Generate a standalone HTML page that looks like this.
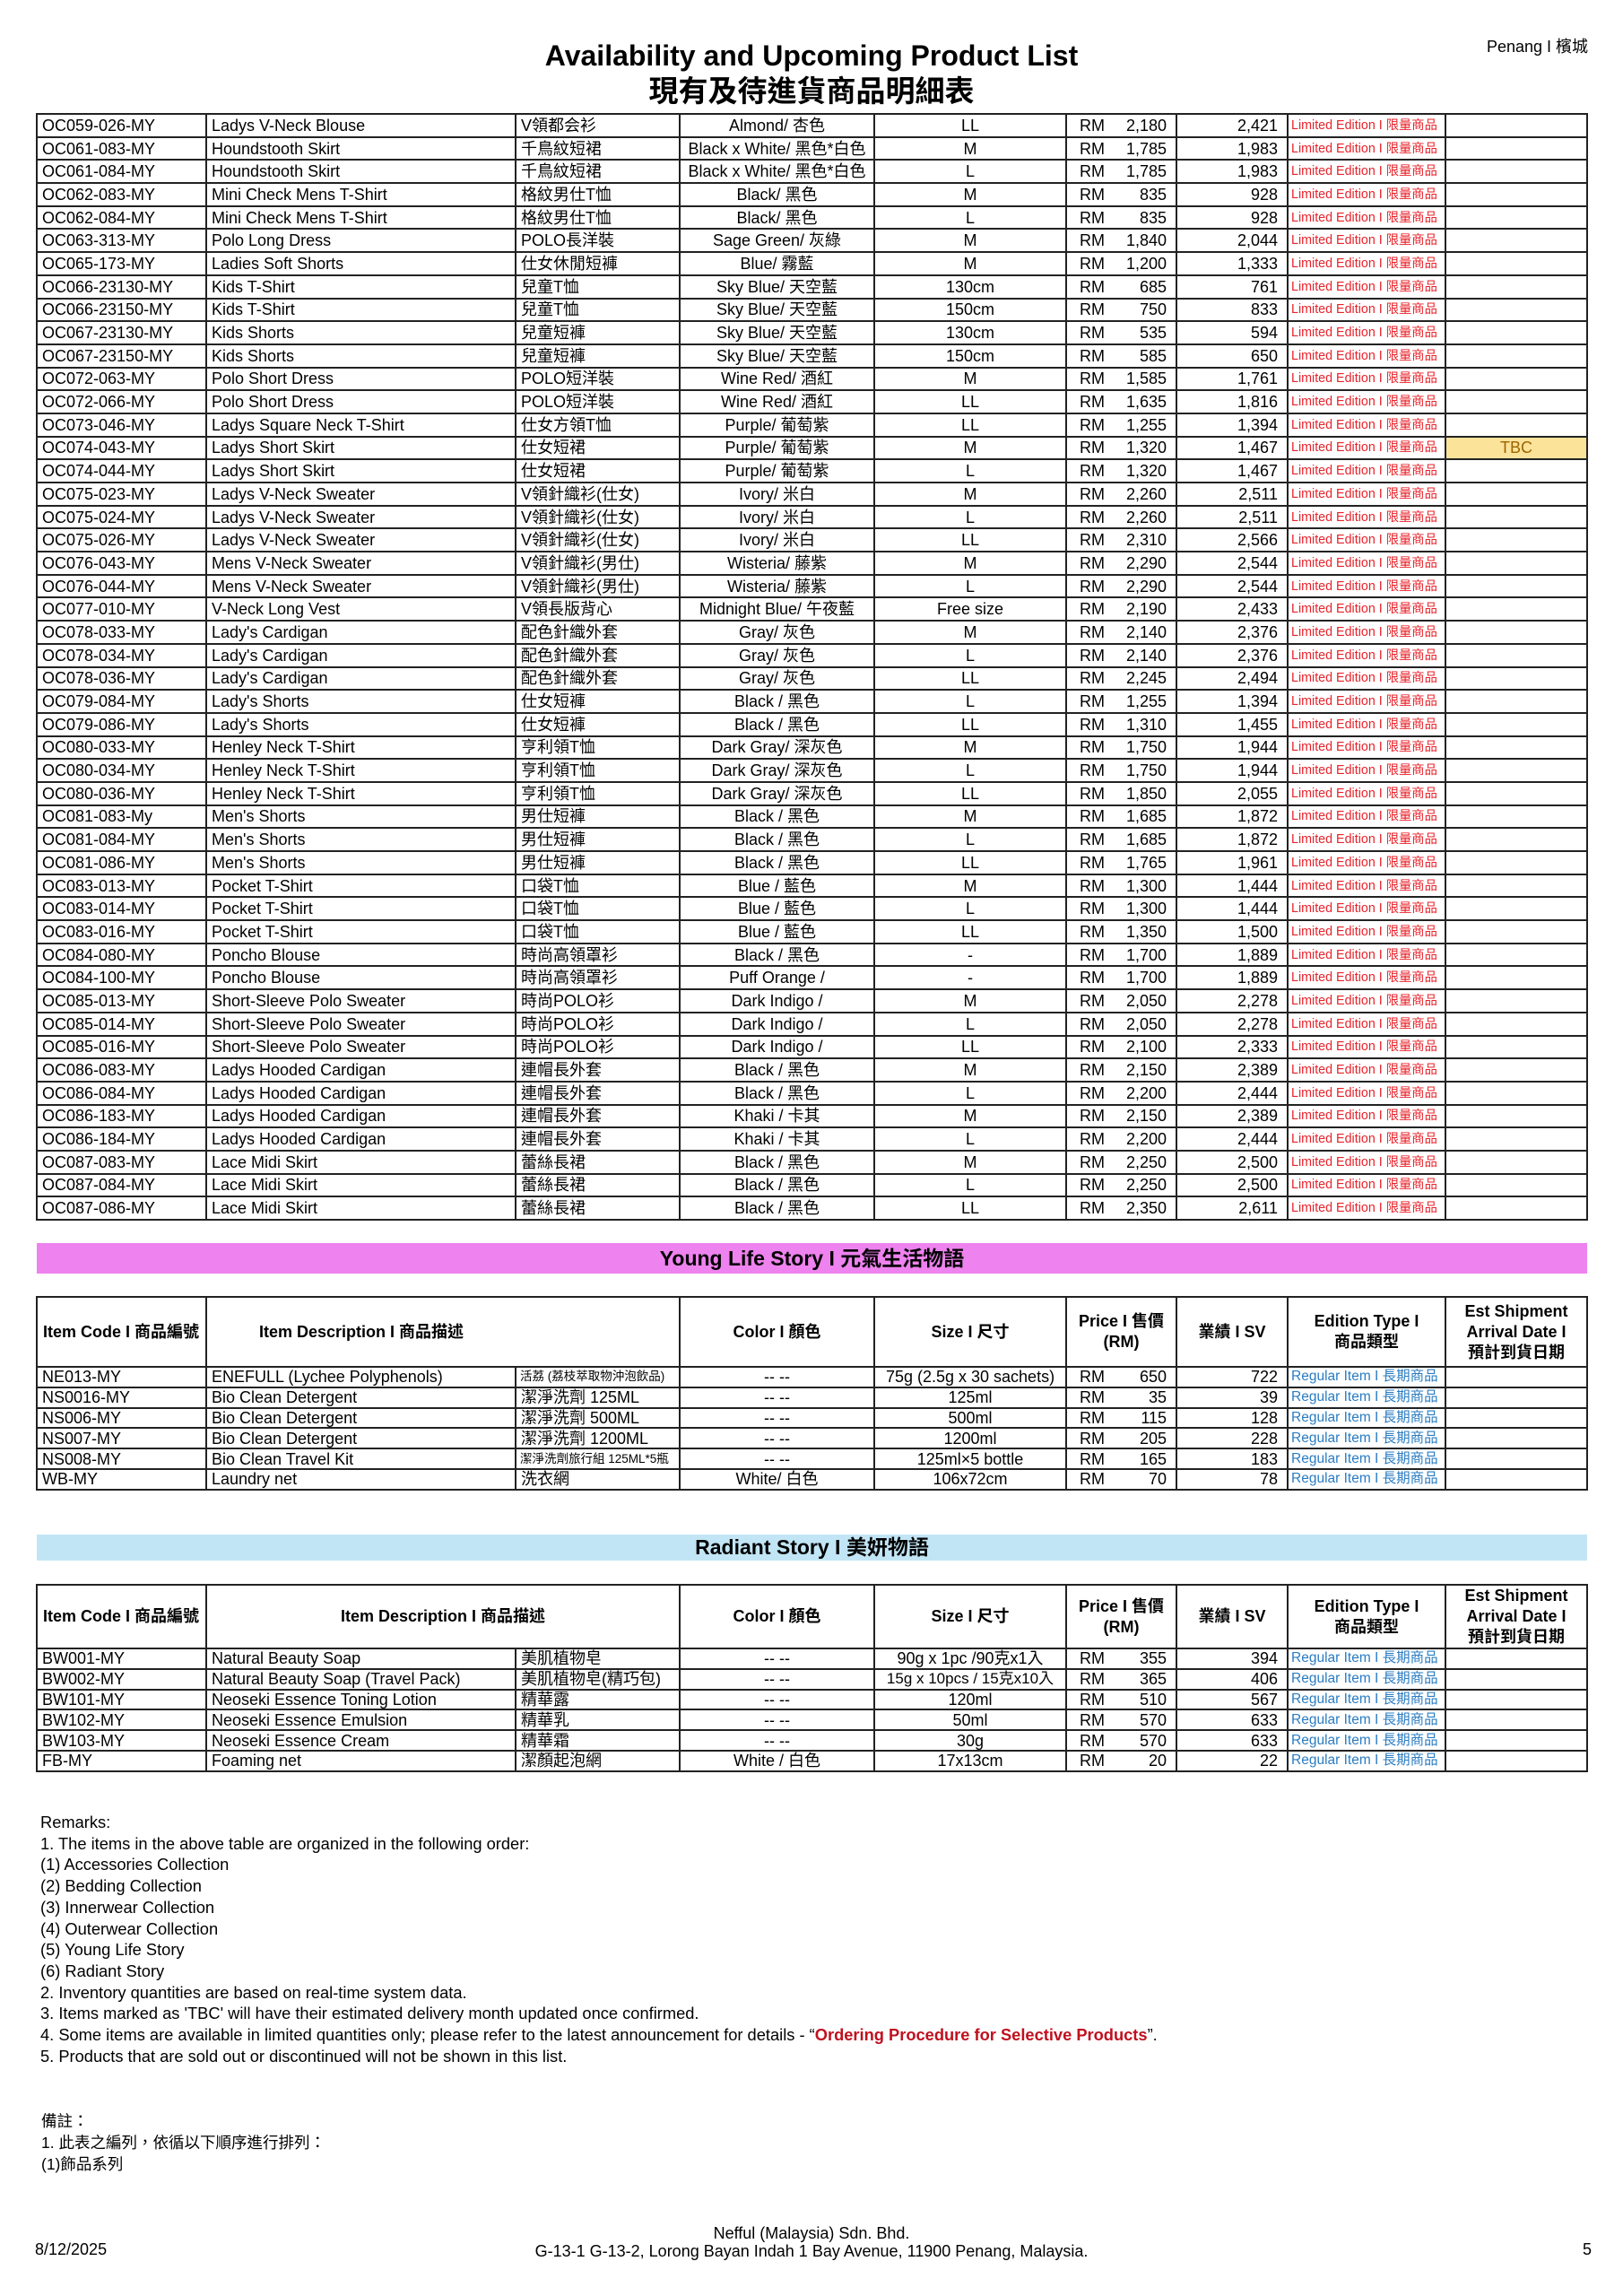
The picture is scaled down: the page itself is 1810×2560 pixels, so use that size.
<!DOCTYPE html>
<html><head><meta charset="utf-8">
<style>
*{margin:0;padding:0;box-sizing:border-box}
body{width:1810px;height:2560px;position:relative;background:#fff;font-family:"Liberation Sans","Noto Sans CJK TC",sans-serif;color:#000;overflow:hidden}
.a{position:absolute;white-space:nowrap}
table{position:absolute;left:40px;width:1729px;border-collapse:collapse;table-layout:fixed;font-size:18px;line-height:20px}
td{border:2px solid #222;padding:0 0 0 5px;white-space:nowrap;overflow:hidden;vertical-align:middle}
.t1 tr{height:25.7px}
.t2 tr,.t3 tr{height:22.8px}
td.c{text-align:center;padding:0}
td.n{text-align:right;padding:0 10px 0 0}
td.p{padding:0 10px 0 14px}
td.p span{float:left}
td.p i{float:right;font-style:normal}
td.le{color:#e8222a;font-size:14.3px;padding-left:3px}
td.re{color:#2a7cc2;font-size:15.5px;padding-left:3px}
td.tbc{background:#fbe39a;color:#9c6500;text-align:center;padding:0}
td.sm{font-size:13.5px;padding-left:4px}
tr.h td{font-weight:bold;text-align:center;line-height:23px;padding:0}
tr.h td.l{text-align:left;padding-left:6px}
.bar{position:absolute;left:41px;width:1729px;font-weight:bold;font-size:23px;text-align:center;white-space:nowrap}
.rem{position:absolute;left:45px;font-size:18.3px;line-height:23.7px;white-space:nowrap}
</style></head><body>

<div class="a" style="left:0;width:1810px;top:46px;font-size:32px;line-height:32px;font-weight:bold;text-align:center">Availability and Upcoming Product List</div>
<div class="a" style="left:0;width:1810px;top:85px;font-size:33px;line-height:33px;font-weight:bold;text-align:center">現有及待進貨商品明細表</div>
<div class="a" style="right:39px;top:43px;font-size:18px;line-height:18px">Penang I 檳城</div>

<table class="t1" style="top:126px">
<colgroup><col style="width:189px"><col style="width:345px"><col style="width:183px"><col style="width:217px"><col style="width:214px"><col style="width:123px"><col style="width:124px"><col style="width:176px"><col style="width:158px"></colgroup>
<tr><td>OC059-026-MY</td><td>Ladys V-Neck Blouse</td><td>V領都会衫</td><td class="c">Almond/ 杏色</td><td class="c">LL</td><td class="p"><span>RM</span><i>2,180</i></td><td class="n">2,421</td><td class="le">Limited Edition I 限量商品</td><td></td></tr>
<tr><td>OC061-083-MY</td><td>Houndstooth Skirt</td><td>千鳥紋短裙</td><td class="c">Black x White/ 黑色*白色</td><td class="c">M</td><td class="p"><span>RM</span><i>1,785</i></td><td class="n">1,983</td><td class="le">Limited Edition I 限量商品</td><td></td></tr>
<tr><td>OC061-084-MY</td><td>Houndstooth Skirt</td><td>千鳥紋短裙</td><td class="c">Black x White/ 黑色*白色</td><td class="c">L</td><td class="p"><span>RM</span><i>1,785</i></td><td class="n">1,983</td><td class="le">Limited Edition I 限量商品</td><td></td></tr>
<tr><td>OC062-083-MY</td><td>Mini Check Mens T-Shirt</td><td>格紋男仕T恤</td><td class="c">Black/ 黑色</td><td class="c">M</td><td class="p"><span>RM</span><i>835</i></td><td class="n">928</td><td class="le">Limited Edition I 限量商品</td><td></td></tr>
<tr><td>OC062-084-MY</td><td>Mini Check Mens T-Shirt</td><td>格紋男仕T恤</td><td class="c">Black/ 黑色</td><td class="c">L</td><td class="p"><span>RM</span><i>835</i></td><td class="n">928</td><td class="le">Limited Edition I 限量商品</td><td></td></tr>
<tr><td>OC063-313-MY</td><td>Polo Long Dress</td><td>POLO長洋裝</td><td class="c">Sage Green/ 灰綠</td><td class="c">M</td><td class="p"><span>RM</span><i>1,840</i></td><td class="n">2,044</td><td class="le">Limited Edition I 限量商品</td><td></td></tr>
<tr><td>OC065-173-MY</td><td>Ladies Soft Shorts</td><td>仕女休閒短褲</td><td class="c">Blue/ 霧藍</td><td class="c">M</td><td class="p"><span>RM</span><i>1,200</i></td><td class="n">1,333</td><td class="le">Limited Edition I 限量商品</td><td></td></tr>
<tr><td>OC066-23130-MY</td><td>Kids T-Shirt</td><td>兒童T恤</td><td class="c">Sky Blue/ 天空藍</td><td class="c">130cm</td><td class="p"><span>RM</span><i>685</i></td><td class="n">761</td><td class="le">Limited Edition I 限量商品</td><td></td></tr>
<tr><td>OC066-23150-MY</td><td>Kids T-Shirt</td><td>兒童T恤</td><td class="c">Sky Blue/ 天空藍</td><td class="c">150cm</td><td class="p"><span>RM</span><i>750</i></td><td class="n">833</td><td class="le">Limited Edition I 限量商品</td><td></td></tr>
<tr><td>OC067-23130-MY</td><td>Kids Shorts</td><td>兒童短褲</td><td class="c">Sky Blue/ 天空藍</td><td class="c">130cm</td><td class="p"><span>RM</span><i>535</i></td><td class="n">594</td><td class="le">Limited Edition I 限量商品</td><td></td></tr>
<tr><td>OC067-23150-MY</td><td>Kids Shorts</td><td>兒童短褲</td><td class="c">Sky Blue/ 天空藍</td><td class="c">150cm</td><td class="p"><span>RM</span><i>585</i></td><td class="n">650</td><td class="le">Limited Edition I 限量商品</td><td></td></tr>
<tr><td>OC072-063-MY</td><td>Polo Short Dress</td><td>POLO短洋裝</td><td class="c">Wine Red/ 酒紅</td><td class="c">M</td><td class="p"><span>RM</span><i>1,585</i></td><td class="n">1,761</td><td class="le">Limited Edition I 限量商品</td><td></td></tr>
<tr><td>OC072-066-MY</td><td>Polo Short Dress</td><td>POLO短洋裝</td><td class="c">Wine Red/ 酒紅</td><td class="c">LL</td><td class="p"><span>RM</span><i>1,635</i></td><td class="n">1,816</td><td class="le">Limited Edition I 限量商品</td><td></td></tr>
<tr><td>OC073-046-MY</td><td>Ladys Square Neck T-Shirt</td><td>仕女方領T恤</td><td class="c">Purple/ 葡萄紫</td><td class="c">LL</td><td class="p"><span>RM</span><i>1,255</i></td><td class="n">1,394</td><td class="le">Limited Edition I 限量商品</td><td></td></tr>
<tr><td>OC074-043-MY</td><td>Ladys Short Skirt</td><td>仕女短裙</td><td class="c">Purple/ 葡萄紫</td><td class="c">M</td><td class="p"><span>RM</span><i>1,320</i></td><td class="n">1,467</td><td class="le">Limited Edition I 限量商品</td><td class="tbc">TBC</td></tr>
<tr><td>OC074-044-MY</td><td>Ladys Short Skirt</td><td>仕女短裙</td><td class="c">Purple/ 葡萄紫</td><td class="c">L</td><td class="p"><span>RM</span><i>1,320</i></td><td class="n">1,467</td><td class="le">Limited Edition I 限量商品</td><td></td></tr>
<tr><td>OC075-023-MY</td><td>Ladys V-Neck Sweater</td><td>V領針織衫(仕女)</td><td class="c">Ivory/ 米白</td><td class="c">M</td><td class="p"><span>RM</span><i>2,260</i></td><td class="n">2,511</td><td class="le">Limited Edition I 限量商品</td><td></td></tr>
<tr><td>OC075-024-MY</td><td>Ladys V-Neck Sweater</td><td>V領針織衫(仕女)</td><td class="c">Ivory/ 米白</td><td class="c">L</td><td class="p"><span>RM</span><i>2,260</i></td><td class="n">2,511</td><td class="le">Limited Edition I 限量商品</td><td></td></tr>
<tr><td>OC075-026-MY</td><td>Ladys V-Neck Sweater</td><td>V領針織衫(仕女)</td><td class="c">Ivory/ 米白</td><td class="c">LL</td><td class="p"><span>RM</span><i>2,310</i></td><td class="n">2,566</td><td class="le">Limited Edition I 限量商品</td><td></td></tr>
<tr><td>OC076-043-MY</td><td>Mens V-Neck Sweater</td><td>V領針織衫(男仕)</td><td class="c">Wisteria/ 藤紫</td><td class="c">M</td><td class="p"><span>RM</span><i>2,290</i></td><td class="n">2,544</td><td class="le">Limited Edition I 限量商品</td><td></td></tr>
<tr><td>OC076-044-MY</td><td>Mens V-Neck Sweater</td><td>V領針織衫(男仕)</td><td class="c">Wisteria/ 藤紫</td><td class="c">L</td><td class="p"><span>RM</span><i>2,290</i></td><td class="n">2,544</td><td class="le">Limited Edition I 限量商品</td><td></td></tr>
<tr><td>OC077-010-MY</td><td>V-Neck Long Vest</td><td>V領長版背心</td><td class="c">Midnight Blue/ 午夜藍</td><td class="c">Free size</td><td class="p"><span>RM</span><i>2,190</i></td><td class="n">2,433</td><td class="le">Limited Edition I 限量商品</td><td></td></tr>
<tr><td>OC078-033-MY</td><td>Lady's Cardigan</td><td>配色針織外套</td><td class="c">Gray/ 灰色</td><td class="c">M</td><td class="p"><span>RM</span><i>2,140</i></td><td class="n">2,376</td><td class="le">Limited Edition I 限量商品</td><td></td></tr>
<tr><td>OC078-034-MY</td><td>Lady's Cardigan</td><td>配色針織外套</td><td class="c">Gray/ 灰色</td><td class="c">L</td><td class="p"><span>RM</span><i>2,140</i></td><td class="n">2,376</td><td class="le">Limited Edition I 限量商品</td><td></td></tr>
<tr><td>OC078-036-MY</td><td>Lady's Cardigan</td><td>配色針織外套</td><td class="c">Gray/ 灰色</td><td class="c">LL</td><td class="p"><span>RM</span><i>2,245</i></td><td class="n">2,494</td><td class="le">Limited Edition I 限量商品</td><td></td></tr>
<tr><td>OC079-084-MY</td><td>Lady's Shorts</td><td>仕女短褲</td><td class="c">Black / 黑色</td><td class="c">L</td><td class="p"><span>RM</span><i>1,255</i></td><td class="n">1,394</td><td class="le">Limited Edition I 限量商品</td><td></td></tr>
<tr><td>OC079-086-MY</td><td>Lady's Shorts</td><td>仕女短褲</td><td class="c">Black / 黑色</td><td class="c">LL</td><td class="p"><span>RM</span><i>1,310</i></td><td class="n">1,455</td><td class="le">Limited Edition I 限量商品</td><td></td></tr>
<tr><td>OC080-033-MY</td><td>Henley Neck T-Shirt</td><td>亨利領T恤</td><td class="c">Dark Gray/ 深灰色</td><td class="c">M</td><td class="p"><span>RM</span><i>1,750</i></td><td class="n">1,944</td><td class="le">Limited Edition I 限量商品</td><td></td></tr>
<tr><td>OC080-034-MY</td><td>Henley Neck T-Shirt</td><td>亨利領T恤</td><td class="c">Dark Gray/ 深灰色</td><td class="c">L</td><td class="p"><span>RM</span><i>1,750</i></td><td class="n">1,944</td><td class="le">Limited Edition I 限量商品</td><td></td></tr>
<tr><td>OC080-036-MY</td><td>Henley Neck T-Shirt</td><td>亨利領T恤</td><td class="c">Dark Gray/ 深灰色</td><td class="c">LL</td><td class="p"><span>RM</span><i>1,850</i></td><td class="n">2,055</td><td class="le">Limited Edition I 限量商品</td><td></td></tr>
<tr><td>OC081-083-My</td><td>Men's Shorts</td><td>男仕短褲</td><td class="c">Black / 黑色</td><td class="c">M</td><td class="p"><span>RM</span><i>1,685</i></td><td class="n">1,872</td><td class="le">Limited Edition I 限量商品</td><td></td></tr>
<tr><td>OC081-084-MY</td><td>Men's Shorts</td><td>男仕短褲</td><td class="c">Black / 黑色</td><td class="c">L</td><td class="p"><span>RM</span><i>1,685</i></td><td class="n">1,872</td><td class="le">Limited Edition I 限量商品</td><td></td></tr>
<tr><td>OC081-086-MY</td><td>Men's Shorts</td><td>男仕短褲</td><td class="c">Black / 黑色</td><td class="c">LL</td><td class="p"><span>RM</span><i>1,765</i></td><td class="n">1,961</td><td class="le">Limited Edition I 限量商品</td><td></td></tr>
<tr><td>OC083-013-MY</td><td>Pocket T-Shirt</td><td>口袋T恤</td><td class="c">Blue / 藍色</td><td class="c">M</td><td class="p"><span>RM</span><i>1,300</i></td><td class="n">1,444</td><td class="le">Limited Edition I 限量商品</td><td></td></tr>
<tr><td>OC083-014-MY</td><td>Pocket T-Shirt</td><td>口袋T恤</td><td class="c">Blue / 藍色</td><td class="c">L</td><td class="p"><span>RM</span><i>1,300</i></td><td class="n">1,444</td><td class="le">Limited Edition I 限量商品</td><td></td></tr>
<tr><td>OC083-016-MY</td><td>Pocket T-Shirt</td><td>口袋T恤</td><td class="c">Blue / 藍色</td><td class="c">LL</td><td class="p"><span>RM</span><i>1,350</i></td><td class="n">1,500</td><td class="le">Limited Edition I 限量商品</td><td></td></tr>
<tr><td>OC084-080-MY</td><td>Poncho Blouse</td><td>時尚高領罩衫</td><td class="c">Black / 黑色</td><td class="c">-</td><td class="p"><span>RM</span><i>1,700</i></td><td class="n">1,889</td><td class="le">Limited Edition I 限量商品</td><td></td></tr>
<tr><td>OC084-100-MY</td><td>Poncho Blouse</td><td>時尚高領罩衫</td><td class="c">Puff Orange /</td><td class="c">-</td><td class="p"><span>RM</span><i>1,700</i></td><td class="n">1,889</td><td class="le">Limited Edition I 限量商品</td><td></td></tr>
<tr><td>OC085-013-MY</td><td>Short-Sleeve Polo Sweater</td><td>時尚POLO衫</td><td class="c">Dark Indigo /</td><td class="c">M</td><td class="p"><span>RM</span><i>2,050</i></td><td class="n">2,278</td><td class="le">Limited Edition I 限量商品</td><td></td></tr>
<tr><td>OC085-014-MY</td><td>Short-Sleeve Polo Sweater</td><td>時尚POLO衫</td><td class="c">Dark Indigo /</td><td class="c">L</td><td class="p"><span>RM</span><i>2,050</i></td><td class="n">2,278</td><td class="le">Limited Edition I 限量商品</td><td></td></tr>
<tr><td>OC085-016-MY</td><td>Short-Sleeve Polo Sweater</td><td>時尚POLO衫</td><td class="c">Dark Indigo /</td><td class="c">LL</td><td class="p"><span>RM</span><i>2,100</i></td><td class="n">2,333</td><td class="le">Limited Edition I 限量商品</td><td></td></tr>
<tr><td>OC086-083-MY</td><td>Ladys Hooded Cardigan</td><td>連帽長外套</td><td class="c">Black / 黑色</td><td class="c">M</td><td class="p"><span>RM</span><i>2,150</i></td><td class="n">2,389</td><td class="le">Limited Edition I 限量商品</td><td></td></tr>
<tr><td>OC086-084-MY</td><td>Ladys Hooded Cardigan</td><td>連帽長外套</td><td class="c">Black / 黑色</td><td class="c">L</td><td class="p"><span>RM</span><i>2,200</i></td><td class="n">2,444</td><td class="le">Limited Edition I 限量商品</td><td></td></tr>
<tr><td>OC086-183-MY</td><td>Ladys Hooded Cardigan</td><td>連帽長外套</td><td class="c">Khaki / 卡其</td><td class="c">M</td><td class="p"><span>RM</span><i>2,150</i></td><td class="n">2,389</td><td class="le">Limited Edition I 限量商品</td><td></td></tr>
<tr><td>OC086-184-MY</td><td>Ladys Hooded Cardigan</td><td>連帽長外套</td><td class="c">Khaki / 卡其</td><td class="c">L</td><td class="p"><span>RM</span><i>2,200</i></td><td class="n">2,444</td><td class="le">Limited Edition I 限量商品</td><td></td></tr>
<tr><td>OC087-083-MY</td><td>Lace Midi Skirt</td><td>蕾絲長裙</td><td class="c">Black / 黑色</td><td class="c">M</td><td class="p"><span>RM</span><i>2,250</i></td><td class="n">2,500</td><td class="le">Limited Edition I 限量商品</td><td></td></tr>
<tr><td>OC087-084-MY</td><td>Lace Midi Skirt</td><td>蕾絲長裙</td><td class="c">Black / 黑色</td><td class="c">L</td><td class="p"><span>RM</span><i>2,250</i></td><td class="n">2,500</td><td class="le">Limited Edition I 限量商品</td><td></td></tr>
<tr><td>OC087-086-MY</td><td>Lace Midi Skirt</td><td>蕾絲長裙</td><td class="c">Black / 黑色</td><td class="c">LL</td><td class="p"><span>RM</span><i>2,350</i></td><td class="n">2,611</td><td class="le">Limited Edition I 限量商品</td><td></td></tr>
</table>

<div class="bar" style="top:1386px;height:34px;line-height:34px;background:#ee82ee">Young Life Story I 元氣生活物語</div>

<table class="t2" style="top:1445px">
<colgroup><col style="width:189px"><col style="width:345px"><col style="width:183px"><col style="width:217px"><col style="width:214px"><col style="width:123px"><col style="width:124px"><col style="width:176px"><col style="width:158px"></colgroup>
<tr class="h" style="height:78px"><td class="l">Item Code I 商品編號</td><td colspan="2" class="l" style="padding-left:58px">Item Description I 商品描述</td><td>Color I 顏色</td><td>Size I 尺寸</td><td>Price I 售價<br>(RM)</td><td>業績 I SV</td><td>Edition Type I<br>商品類型</td><td>Est Shipment<br>Arrival Date I<br>預計到貨日期</td></tr>
<tr><td>NE013-MY</td><td>ENEFULL (Lychee Polyphenols)</td><td class="sm">活荔 (荔枝萃取物沖泡飲品)</td><td class="c">-- --</td><td class="c">75g (2.5g x 30 sachets)</td><td class="p"><span>RM</span><i>650</i></td><td class="n">722</td><td class="re">Regular Item I 長期商品</td><td></td></tr>
<tr><td>NS0016-MY</td><td>Bio Clean Detergent</td><td>潔淨洗劑 125ML</td><td class="c">-- --</td><td class="c">125ml</td><td class="p"><span>RM</span><i>35</i></td><td class="n">39</td><td class="re">Regular Item I 長期商品</td><td></td></tr>
<tr><td>NS006-MY</td><td>Bio Clean Detergent</td><td>潔淨洗劑 500ML</td><td class="c">-- --</td><td class="c">500ml</td><td class="p"><span>RM</span><i>115</i></td><td class="n">128</td><td class="re">Regular Item I 長期商品</td><td></td></tr>
<tr><td>NS007-MY</td><td>Bio Clean Detergent</td><td>潔淨洗劑 1200ML</td><td class="c">-- --</td><td class="c">1200ml</td><td class="p"><span>RM</span><i>205</i></td><td class="n">228</td><td class="re">Regular Item I 長期商品</td><td></td></tr>
<tr><td>NS008-MY</td><td>Bio Clean Travel Kit</td><td class="sm">潔淨洗劑旅行組 125ML*5瓶</td><td class="c">-- --</td><td class="c">125ml×5 bottle</td><td class="p"><span>RM</span><i>165</i></td><td class="n">183</td><td class="re">Regular Item I 長期商品</td><td></td></tr>
<tr><td>WB-MY</td><td>Laundry net</td><td>洗衣網</td><td class="c">White/ 白色</td><td class="c">106x72cm</td><td class="p"><span>RM</span><i>70</i></td><td class="n">78</td><td class="re">Regular Item I 長期商品</td><td></td></tr>
</table>

<div class="bar" style="top:1711px;height:29px;line-height:29px;background:#c2e5f5">Radiant Story I 美妍物語</div>

<table class="t3" style="top:1766px">
<colgroup><col style="width:189px"><col style="width:345px"><col style="width:183px"><col style="width:217px"><col style="width:214px"><col style="width:123px"><col style="width:124px"><col style="width:176px"><col style="width:158px"></colgroup>
<tr class="h" style="height:71px"><td class="l">Item Code I 商品編號</td><td colspan="2">Item Description I 商品描述</td><td>Color I 顏色</td><td>Size I 尺寸</td><td>Price I 售價<br>(RM)</td><td>業績 I SV</td><td>Edition Type I<br>商品類型</td><td>Est Shipment<br>Arrival Date I<br>預計到貨日期</td></tr>
<tr><td>BW001-MY</td><td>Natural Beauty Soap</td><td>美肌植物皂</td><td class="c">-- --</td><td class="c">90g x 1pc /90克x1入</td><td class="p"><span>RM</span><i>355</i></td><td class="n">394</td><td class="re">Regular Item I 長期商品</td><td></td></tr>
<tr><td>BW002-MY</td><td>Natural Beauty Soap (Travel Pack)</td><td>美肌植物皂(精巧包)</td><td class="c">-- --</td><td class="c" style="font-size:17px">15g x 10pcs / 15克x10入</td><td class="p"><span>RM</span><i>365</i></td><td class="n">406</td><td class="re">Regular Item I 長期商品</td><td></td></tr>
<tr><td>BW101-MY</td><td>Neoseki Essence Toning Lotion</td><td>精華露</td><td class="c">-- --</td><td class="c">120ml</td><td class="p"><span>RM</span><i>510</i></td><td class="n">567</td><td class="re">Regular Item I 長期商品</td><td></td></tr>
<tr><td>BW102-MY</td><td>Neoseki Essence Emulsion</td><td>精華乳</td><td class="c">-- --</td><td class="c">50ml</td><td class="p"><span>RM</span><i>570</i></td><td class="n">633</td><td class="re">Regular Item I 長期商品</td><td></td></tr>
<tr><td>BW103-MY</td><td>Neoseki Essence Cream</td><td>精華霜</td><td class="c">-- --</td><td class="c">30g</td><td class="p"><span>RM</span><i>570</i></td><td class="n">633</td><td class="re">Regular Item I 長期商品</td><td></td></tr>
<tr><td>FB-MY</td><td>Foaming net</td><td>潔顏起泡網</td><td class="c">White / 白色</td><td class="c">17x13cm</td><td class="p"><span>RM</span><i>20</i></td><td class="n">22</td><td class="re">Regular Item I 長期商品</td><td></td></tr>
</table>

<div class="rem" style="top:2020px">Remarks:<br>
1. The items in the above table are organized in the following order:<br>
(1) Accessories Collection<br>
(2) Bedding Collection<br>
(3) Innerwear Collection<br>
(4) Outerwear Collection<br>
(5) Young Life Story<br>
(6) Radiant Story<br>
2. Inventory quantities are based on real-time system data.<br>
3. Items marked as 'TBC' will have their estimated delivery month updated once confirmed.<br>
4. Some items are available in limited quantities only; please refer to the latest announcement for details - “<b style="color:#c0101e">Ordering Procedure for Selective Products</b>”.<br>
5. Products that are sold out or discontinued will not be shown in this list.</div>

<div class="rem" style="top:2353px;left:46px;font-size:17.5px;line-height:24px">備註：<br>
1. 此表之編列，依循以下順序進行排列：<br>
(1)飾品系列</div>

<div class="a" style="left:0;width:1810px;text-align:center;top:2481px;font-size:18px;line-height:18px">Nefful (Malaysia) Sdn. Bhd.</div>
<div class="a" style="left:0;width:1810px;text-align:center;top:2501px;font-size:18px;line-height:18px">G-13-1 G-13-2, Lorong Bayan Indah 1 Bay Avenue, 11900 Penang, Malaysia.</div>
<div class="a" style="left:39px;top:2499px;font-size:18px;line-height:18px">8/12/2025</div>
<div class="a" style="right:35px;top:2499px;font-size:18px;line-height:18px">5</div>

</body></html>
